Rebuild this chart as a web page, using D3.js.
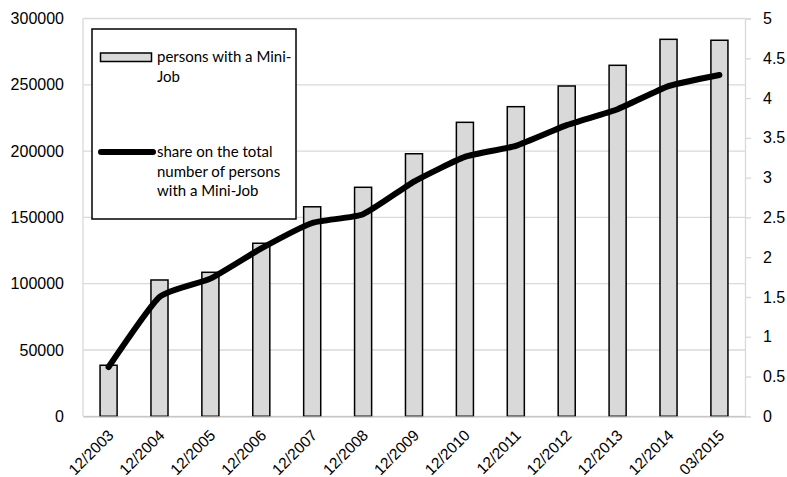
<!DOCTYPE html>
<html>
<head>
<meta charset="utf-8">
<script src="https://cdn.jsdelivr.net/npm/d3@7"></script>
<style>
  body { margin: 0; background: #fff; }
  svg { font-family: Lato, "Open Sans", sans-serif; }
</style>
</head>
<body>
<svg></svg>
<script>
// data
const categories = ['12/2003', '12/2004', '12/2005', '12/2006', '12/2007', '12/2008', '12/2009',
                    '12/2010', '12/2011', '12/2012', '12/2013', '12/2014', '03/2015']
const persons = [38500, 102800, 108600, 130500, 158000, 172700, 198000,
                 221700, 233500, 249100, 264700, 284300, 283600]
const share = [0.62, 1.50, 1.73, 2.11, 2.43, 2.54, 2.95, 3.26, 3.40, 3.66, 3.86, 4.15, 4.29]
const leftTicks = [0, 50000, 100000, 150000, 200000, 250000, 300000]
const rightTicks = [0, 0.5, 1, 1.5, 2, 2.5, 3, 3.5, 4, 4.5, 5]
const barLabel = ['persons with a Mini-', 'Job']
const lineLabel = ['share on the total', 'number of persons', 'with a Mini-Job']

const
    svgWidth = 787,
    svgHeight = 477,
    LEFT = 83,
    RIGHT = 745,
    TOP = 18.5,
    BOTTOM = 416.3

let svg = d3.select('svg')
    .attr('width', svgWidth)
    .attr('height', svgHeight)

let x = d3.scaleBand()
    .domain(categories)
    .range([LEFT, RIGHT])
    .paddingInner(0.665)
    .paddingOuter(0.335)

let yLeft = d3.scaleLinear()
    .domain([0, 300000])
    .range([BOTTOM, TOP])

let yRight = d3.scaleLinear()
    .domain([0, 5])
    .range([BOTTOM, TOP])

// gridlines
svg.append('g')
    .selectAll('line')
    .data(leftTicks)
    .enter()
    .append('line')
        .attr('x1', LEFT)
        .attr('x2', RIGHT)
        .attr('y1', d => yLeft(d))
        .attr('y2', d => yLeft(d))
        .attr('stroke', '#d9d9d9')
        .attr('stroke-width', 1.3)

// plot area left side
svg.append('line')
    .attr('x1', LEFT).attr('x2', LEFT)
    .attr('y1', TOP).attr('y2', BOTTOM)
    .attr('stroke', '#d9d9d9').attr('stroke-width', 1.3)

// left axis labels
let leftAxis = d3.axisLeft(yLeft).tickValues(leftTicks).tickFormat(d => String(d)).tickSize(0).tickPadding(19)
svg.append('g')
    .attr('transform', `translate(${LEFT}, 0)`)
    .call(leftAxis)
    .call(g => g.select('.domain').remove())
    .selectAll('text')
        .style('font-size', '16px')
        .attr('fill', '#000')

// right axis
let rightAxis = d3.axisRight(yRight).tickValues(rightTicks).tickFormat(d => String(d)).tickSize(6).tickPadding(12)
svg.append('g')
    .attr('transform', `translate(${RIGHT}, 0)`)
    .call(rightAxis)
    .call(g => g.select('.domain').attr('stroke', '#d9d9d9').attr('stroke-width', 1.3))
    .call(g => g.selectAll('.tick line').attr('stroke', '#d9d9d9').attr('stroke-width', 1.3))
    .selectAll('text')
        .style('font-size', '16px')
        .attr('fill', '#000')

// bars
svg.append('g')
    .selectAll('rect')
    .data(persons)
    .enter()
    .append('rect')
        .attr('x', (d, i) => x(categories[i]))
        .attr('y', d => yLeft(d))
        .attr('width', x.bandwidth())
        .attr('height', d => BOTTOM - yLeft(d))
        .attr('fill', '#d9d9d9')
        .attr('stroke', '#000')
        .attr('stroke-width', 1.5)

// x axis
let xAxis = d3.axisBottom(x).tickSize(0).tickPadding(0)
svg.append('g')
    .attr('transform', `translate(0, ${BOTTOM})`)
    .call(xAxis)
    .call(g => g.select('.domain').attr('stroke', '#bfbfbf').attr('stroke-width', 1.3))
    .selectAll('text')
        .style('font-size', '15.5px')
        .attr('fill', '#000')
        .attr('text-anchor', 'end')
        .attr('y', 0)
        .attr('dy', 0)
        .attr('transform', 'translate(6, 20) rotate(-45)')

// share line
let line = d3.line()
    .x((d, i) => x(categories[i]) + x.bandwidth() / 2)
    .y(d => yRight(d))
    .curve(d3.curveCardinal.tension(0.5))

svg.append('path')
    .datum(share)
    .attr('d', line)
    .attr('fill', 'none')
    .attr('stroke', '#000')
    .attr('stroke-width', 6)
    .attr('stroke-linecap', 'round')
    .attr('stroke-linejoin', 'round')

// legend
let legend = svg.append('g')
legend.append('rect')
    .attr('x', 92).attr('y', 29)
    .attr('width', 204).attr('height', 190)
    .attr('fill', '#fff')
    .attr('stroke', '#000')
    .attr('stroke-width', 1.5)

legend.append('rect')
    .attr('x', 100.5).attr('y', 53)
    .attr('width', 51).attr('height', 8.5)
    .attr('fill', '#d9d9d9')
    .attr('stroke', '#000')
    .attr('stroke-width', 1.5)

legend.append('line')
    .attr('x1', 101).attr('x2', 153)
    .attr('y1', 152).attr('y2', 152)
    .attr('stroke', '#000')
    .attr('stroke-width', 6)
    .attr('stroke-linecap', 'round')

legend.append('text')
    .attr('x', 157).attr('y', 62)
    .style('font-size', '15px')
    .selectAll('tspan')
    .data(barLabel)
    .enter()
    .append('tspan')
        .attr('x', 157)
        .attr('dy', (d, i) => i ? 19.7 : 0)
        .text(d => d)

legend.append('text')
    .attr('x', 157).attr('y', 157)
    .style('font-size', '15px')
    .selectAll('tspan')
    .data(lineLabel)
    .enter()
    .append('tspan')
        .attr('x', 157)
        .attr('dy', (d, i) => i ? 19.7 : 0)
        .text(d => d)
</script>
</body>
</html>
